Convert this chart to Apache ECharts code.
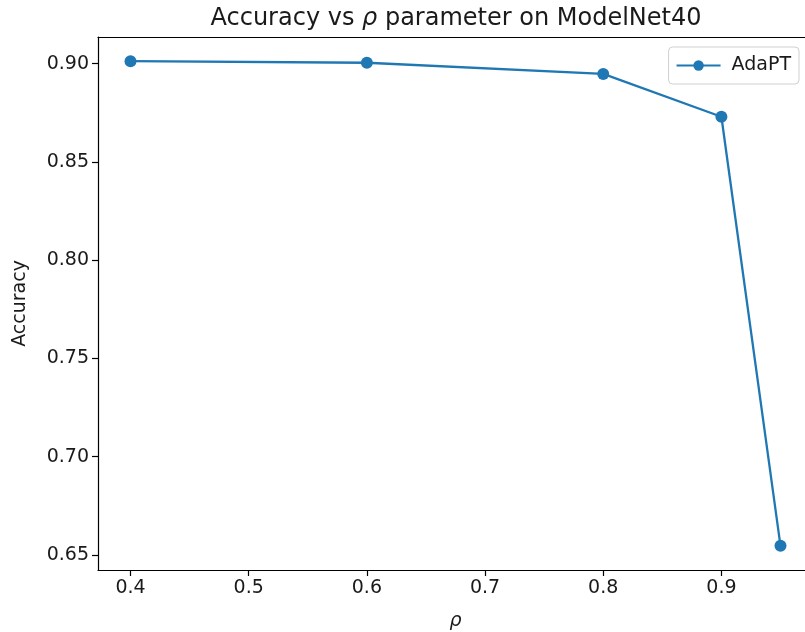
<!DOCTYPE html>
<html>
<head>
<meta charset="utf-8">
<script src="https://cdn.jsdelivr.net/npm/echarts@6/dist/echarts.min.js"></script>
<style>
  html, body { margin: 0; padding: 0; background: #fff; }
  #chart { width: 805px; height: 632px; }
</style>
</head>
<body>
<div id="chart"></div>
<script>
// rho values and the accuracy
const rho = [0.4, 0.6, 0.8, 0.9, 0.95];
const accuracy = [0.9013, 0.9005, 0.8948, 0.8730, 0.6546];
const xTicks = [0.4, 0.5, 0.6, 0.7, 0.8, 0.9];
const yTicks = [0.65, 0.70, 0.75, 0.80, 0.85, 0.90];

const font = 'DejaVu Sans';
const ink = '#1a1a1a';

let myChart = echarts.init(document.getElementById('chart'));

let option = {
    animation: false,
    backgroundColor: '#fff',
    textStyle: { fontFamily: font },
    title: {
        text: 'Accuracy vs {i|ρ} parameter on ModelNet40',
        left: 451,
        textAlign: 'center',
        top: 2,
        textStyle: {
            fontFamily: font,
            fontSize: 24,
            fontWeight: 'normal',
            color: ink,
            rich: {
                i: { fontFamily: font, fontSize: 24, fontStyle: 'italic', color: ink }
            }
        }
    },
    legend: {
        right: 6,
        top: 47,
        padding: [9, 8, 9, 7],
        itemWidth: 44,
        itemHeight: 13,
        itemGap: 10,
        borderColor: '#d0d0d0',
        borderWidth: 1,
        borderRadius: 4,
        backgroundColor: 'rgba(255,255,255,0.8)',
        textStyle: { fontFamily: font, fontSize: 19, color: ink, padding: [0, 0, 0, 6] },
        data: ['AdaPT']
    },
    grid: {
        left: 98,
        top: 37,
        width: 715,
        height: 533,
        outerBoundsMode: 'none',
        containLabel: false
    },
    xAxis: [{
        type: 'value',
        min: 0.3725,
        max: 0.9775,
        name: 'ρ',
        nameLocation: 'middle',
        nameGap: 42,
        nameTextStyle: { fontFamily: font, fontSize: 19, fontStyle: 'italic', color: ink },
        splitLine: { show: false },
        axisLine: { show: true, onZero: false, lineStyle: { color: '#000', width: 1.2 } },
        axisTick: { show: true, inside: false, length: 6, customValues: xTicks, lineStyle: { color: '#000', width: 1.2 } },
        axisLabel: {
            customValues: xTicks,
            margin: 9,
            fontFamily: font,
            fontSize: 19,
            color: ink,
            formatter: v => v.toFixed(1)
        }
    }, {
        type: 'value',
        position: 'top',
        min: 0.3725,
        max: 0.9775,
        splitLine: { show: false },
        axisLine: { show: true, onZero: false, lineStyle: { color: '#000', width: 1.2 } },
        axisTick: { show: false },
        axisLabel: { show: false }
    }],
    yAxis: [{
        type: 'value',
        min: 0.6423,
        max: 0.9136,
        name: 'Accuracy',
        nameLocation: 'middle',
        nameGap: 68,
        nameTextStyle: { fontFamily: font, fontSize: 19, color: ink },
        splitLine: { show: false },
        axisLine: { show: true, onZero: false, lineStyle: { color: '#000', width: 1.2 } },
        axisTick: { show: true, inside: false, length: 6, customValues: yTicks, lineStyle: { color: '#000', width: 1.2 } },
        axisLabel: {
            customValues: yTicks,
            margin: 9,
            fontFamily: font,
            fontSize: 19,
            color: ink,
            formatter: v => v.toFixed(2)
        }
    }, {
        type: 'value',
        position: 'right',
        min: 0.6423,
        max: 0.9136,
        splitLine: { show: false },
        axisLine: { show: true, onZero: false, lineStyle: { color: '#000', width: 1.2 } },
        axisTick: { show: false },
        axisLabel: { show: false }
    }],
    series: [{
        name: 'AdaPT',
        type: 'line',
        xAxisIndex: 0,
        yAxisIndex: 0,
        data: rho.map((r, i) => [r, accuracy[i]]),
        symbol: 'circle',
        symbolSize: 12,
        showSymbol: true,
        color: '#1f77b4',
        lineStyle: { color: '#1f77b4', width: 2.3 },
        itemStyle: { color: '#1f77b4' }
    }]
};

myChart.setOption(option);
</script>
</body>
</html>
